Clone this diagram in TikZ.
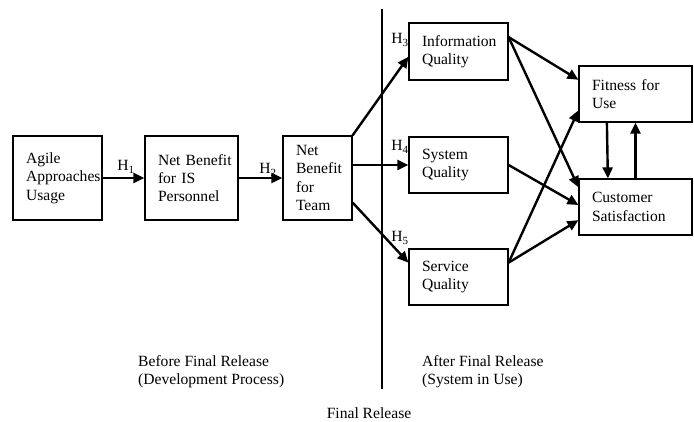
\documentclass[tikz,border=0pt]{standalone}
\usepackage{fontspec}
\setmainfont{Liberation Serif}
\usetikzlibrary{arrows.meta}

\begin{document}
\begin{tikzpicture}[x=1pt, y=-1pt]
		\tikzstyle{every node}=[inner sep=1pt, font=\fontsize{15.6}{18.3}\selectfont]
		\tikzstyle{box}=[draw, line width=1.2pt, align=left, inner xsep=13pt, inner ysep=0pt]
		\tikzstyle{link}=[line width=2.4pt, -{Triangle[length=11pt, width=10pt]}]
		\useasboundingbox (0, 0) rectangle (694, 422);

		\node [box, text width=63pt, minimum height=84pt] (agile) at (57.5, 178) {Agile\\Approaches\\Usage};
		\node [box, text width=67pt, minimum height=84pt] (isben) at (191.5, 178) {\mbox{Net Benefit}\\for IS\\Personnel};
		\node [box, text width=43pt, minimum height=84pt] (teamben) at (317.5, 178) {Net\\Benefit\\for\\Team};
		\node [box, text width=73pt, minimum height=57pt] (infoq) at (458.5, 51.5) {Information\\Quality};
		\node [box, text width=73pt, minimum height=56pt] (sysq) at (458.5, 165) {System\\Quality};
		\node [box, text width=73pt, minimum height=56pt] (servq) at (458.5, 277) {Service\\Quality};
		\node [box, text width=87pt, minimum height=56pt] (fitness) at (635.5, 94) {Fitness for\\Use};
		\node [box, text width=87pt, minimum height=56pt] (custsat) at (635.5, 207) {Customer\\Satisfaction};

		\node (h1) at (126, 167) {H\textsubscript{1}};
		\node (h2) at (268, 170) {H\textsubscript{2}};
		\node (h3) at (400, 40) {H\textsubscript{3}};
		\node (h4) at (400, 147) {H\textsubscript{4}};
		\node (h5) at (400, 238) {H\textsubscript{5}};

		\node [align=left, anchor=west] (before) at (137, 372) {Before Final Release\\(Development Process)};
		\node [align=left, anchor=west] (after) at (421, 372) {After Final Release\\(System in Use)};
		\node (release) at (369, 413) {Final Release};

		\coordinate (linetop) at (382, 9);
		\coordinate (linebot) at (382, 389);
		\draw [line width=1.2pt] (linetop) -- (linebot);

		\draw [link] (agile) -- (isben);
		\draw [link] (isben) -- (teamben);
		\draw [link] (teamben.north east) -- (infoq.186);
		\draw [link] (teamben.east |- sysq.west) -- (sysq.west);
		\draw [link] (teamben.325) -- (servq.164);
		\draw [link] (infoq.16) -- (fitness.166);
		\draw [link] (infoq.16) -- (custsat.161);
		\draw [link] (sysq.east) -- (custsat.178);
		\draw [link] (servq.16) -- (fitness.196);
		\draw [link] (servq.16) -- (custsat.193);
		\draw [link] (fitness.225.5) -- (custsat.134.5);
		\draw [link] (custsat.north) -- (fitness.south);
	\end{tikzpicture}
\end{document}
